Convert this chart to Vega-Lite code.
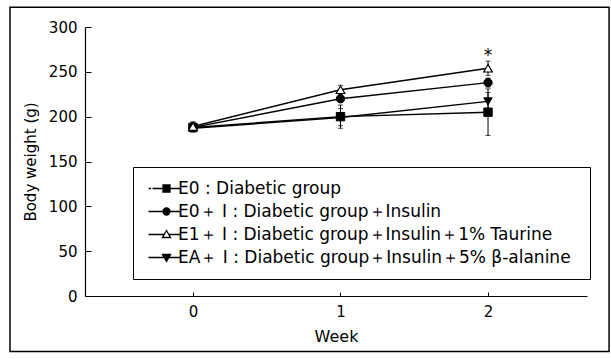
{
  "$schema": "https://vega.github.io/schema/vega-lite/v6.json",
  "width": 502,
  "height": 269,
  "autosize": {"type": "none"},
  "padding": {"left": 85, "top": 27, "right": 24, "bottom": 63},
  "background": "white",
  "config": {
    "view": {"stroke": null},
    "font": "DejaVu Sans",
    "axis": {"grid": false, "domainColor": "black", "domainWidth": 1.2, "tickColor": "black", "labelColor": "black", "titleColor": "black", "titleFontWeight": "normal", "labelFont": "DejaVu Sans", "titleFont": "DejaVu Sans"}
  },
  "datasets": {
    "bw": [
      {"group": "E0 : Diabetic group", "week": 0, "bw": 188, "lo": 183, "hi": 194},
      {"group": "E0 : Diabetic group", "week": 1, "bw": 200, "lo": 187, "hi": 213},
      {"group": "E0 : Diabetic group", "week": 2, "bw": 205, "lo": 179, "hi": 231},
      {"group": "E0＋ Ⅰ  : Diabetic group＋Insulin", "week": 0, "bw": 188, "lo": 184, "hi": 193},
      {"group": "E0＋ Ⅰ  : Diabetic group＋Insulin", "week": 1, "bw": 220, "lo": 216, "hi": 225},
      {"group": "E0＋ Ⅰ  : Diabetic group＋Insulin", "week": 2, "bw": 238, "lo": 233, "hi": 243},
      {"group": "E1＋ Ⅰ  : Diabetic group＋Insulin＋1% Taurine", "week": 0, "bw": 189, "lo": 185, "hi": 194},
      {"group": "E1＋ Ⅰ  : Diabetic group＋Insulin＋1% Taurine", "week": 1, "bw": 230, "lo": 226, "hi": 235},
      {"group": "E1＋ Ⅰ  : Diabetic group＋Insulin＋1% Taurine", "week": 2, "bw": 254, "lo": 246, "hi": 262},
      {"group": "EA＋ Ⅰ  : Diabetic group＋Insulin＋5% β-alanine", "week": 0, "bw": 187, "lo": 183, "hi": 192},
      {"group": "EA＋ Ⅰ  : Diabetic group＋Insulin＋5% β-alanine", "week": 1, "bw": 199, "lo": 190, "hi": 209},
      {"group": "EA＋ Ⅰ  : Diabetic group＋Insulin＋5% β-alanine", "week": 2, "bw": 217, "lo": 208, "hi": 227}
    ],
    "note": [{"week": 2, "bw": 268, "text": "*"}],
    "frame": [{"x1": -1.2405, "x2": 2.8206, "y1": -62, "y2": 322}]
  },
  "layer": [
    {
      "data": {"name": "bw"},
      "mark": {"type": "line", "color": "black", "strokeWidth": 1.4},
      "encoding": {
        "x": {"field": "week", "type": "quantitative", "title": "Week",
          "scale": {"domain": [-0.732, 2.671], "nice": false, "zero": false},
          "axis": {"values": [0, 1, 2], "format": "d", "tickSize": -4, "labelPadding": 12, "labelFontSize": 15, "titleFontSize": 16, "titlePadding": 9, "labelFlush": false}},
        "y": {"field": "bw", "type": "quantitative", "title": "Body weight (g)",
          "scale": {"domain": [0, 300], "nice": false},
          "axis": {"values": [0, 25, 50, 75, 100, 125, 150, 175, 200, 225, 250, 275, 300],
            "labelExpr": "datum.value % 50 === 0 ? datum.label : ''",
            "tickSize": {"condition": {"test": "datum.value % 50 === 0", "value": -6}, "value": -3},
            "labelPadding": 14,
            "labelFontSize": 15, "titleFontSize": 15, "titlePadding": 10}},
        "detail": {"field": "group"}
      }
    },
    {
      "data": {"name": "bw"},
      "mark": {"type": "errorbar", "ticks": true, "color": "black"},
      "encoding": {
        "x": {"field": "week", "type": "quantitative", "title": "Week"},
        "y": {"field": "lo", "type": "quantitative", "title": "Body weight (g)"},
        "y2": {"field": "hi"},
        "detail": {"field": "group"}
      }
    },
    {
      "data": {"name": "bw"},
      "transform": [{"filter": "indexof(datum.group, 'Insulin') < 0"}],
      "mark": {"type": "point", "shape": "square", "filled": true, "fill": "black", "stroke": "black", "strokeWidth": 1, "size": 70, "opacity": 1},
      "encoding": {
        "x": {"field": "week", "type": "quantitative", "title": "Week"},
        "y": {"field": "bw", "type": "quantitative", "title": "Body weight (g)"}
      }
    },
    {
      "data": {"name": "bw"},
      "transform": [{"filter": "indexof(datum.group, 'Insulin') >= 0 && indexof(datum.group, '%') < 0"}],
      "mark": {"type": "point", "shape": "circle", "filled": true, "fill": "black", "stroke": "black", "strokeWidth": 1, "size": 70, "opacity": 1},
      "encoding": {
        "x": {"field": "week", "type": "quantitative", "title": "Week"},
        "y": {"field": "bw", "type": "quantitative", "title": "Body weight (g)"}
      }
    },
    {
      "data": {"name": "bw"},
      "transform": [{"filter": "indexof(datum.group, 'alanine') >= 0"}],
      "mark": {"type": "point", "shape": "triangle-down", "filled": true, "fill": "black", "stroke": "black", "strokeWidth": 1, "size": 70, "opacity": 1},
      "encoding": {
        "x": {"field": "week", "type": "quantitative", "title": "Week"},
        "y": {"field": "bw", "type": "quantitative", "title": "Body weight (g)"}
      }
    },
    {
      "data": {"name": "bw"},
      "transform": [{"filter": "indexof(datum.group, 'Taurine') >= 0"}],
      "mark": {"type": "point", "shape": "triangle-up", "filled": true, "fill": "white", "stroke": "black", "strokeWidth": 1.2, "size": 75, "opacity": 1},
      "encoding": {
        "x": {"field": "week", "type": "quantitative", "title": "Week"},
        "y": {"field": "bw", "type": "quantitative", "title": "Body weight (g)"}
      }
    },
    {
      "data": {"name": "bw"},
      "transform": [{"filter": "datum.week > 10"}],
      "mark": {"type": "point", "filled": false, "color": "black", "strokeWidth": 1.3, "size": 100, "opacity": 1},
      "encoding": {
        "x": {"field": "week", "type": "quantitative", "title": "Week"},
        "y": {"field": "bw", "type": "quantitative", "title": "Body weight (g)"},
        "shape": {"field": "group", "type": "nominal",
          "scale": {"domain": ["E0 : Diabetic group", "E0＋ Ⅰ  : Diabetic group＋Insulin", "E1＋ Ⅰ  : Diabetic group＋Insulin＋1% Taurine", "EA＋ Ⅰ  : Diabetic group＋Insulin＋5% β-alanine"],
            "range": ["M-1.2,0H-0.7M-0.4,0H5.1M1.7,-0.7H3.1V0.7H1.7Z", "M-1.2,0H5.1M1.7,0A0.7,0.7,0,1,0,3.1,0A0.7,0.7,0,1,0,1.7,0Z", "M-1.2,0H1.95M2.85,0H5.1M2.4,-0.8L3.2,0.6L1.6,0.6Z", "M-1.2,0H5.1M1.6,-0.6L3.2,-0.6L2.4,0.8Z"]},
          "legend": {"orient": "none", "legendX": 48, "legendY": 140, "title": null,
            "strokeColor": "black", "fillColor": "white", "padding": 13,
            "labelFontSize": 17, "labelFont": "DejaVu Sans", "labelColor": "black", "labelLimit": 700,
            "symbolSize": 100, "symbolStrokeWidth": 1.3, "symbolStrokeColor": "black", "symbolOpacity": 1,
            "rowPadding": 5, "labelOffset": 15,
            "encode": {"symbols": {"update": {"stroke": {"value": "black"}, "strokeWidth": {"value": 1.3}, "opacity": {"value": 1}}}}}},
        "fill": {"field": "group", "type": "nominal",
          "scale": {"domain": ["E0 : Diabetic group", "E0＋ Ⅰ  : Diabetic group＋Insulin", "E1＋ Ⅰ  : Diabetic group＋Insulin＋1% Taurine", "EA＋ Ⅰ  : Diabetic group＋Insulin＋5% β-alanine"], "range": ["black", "black", "white", "black"]},
          "legend": {"orient": "none", "legendX": 48, "legendY": 140, "title": null,
            "strokeColor": "black", "fillColor": "white", "padding": 13,
            "labelFontSize": 17, "labelFont": "DejaVu Sans", "labelColor": "black", "labelLimit": 700,
            "symbolSize": 100, "symbolStrokeWidth": 1.3, "symbolStrokeColor": "black", "symbolOpacity": 1,
            "rowPadding": 5, "labelOffset": 15,
            "encode": {"symbols": {"update": {"stroke": {"value": "black"}, "strokeWidth": {"value": 1.3}, "opacity": {"value": 1}}}}}}
      }
    },
    {
      "data": {"name": "note"},
      "mark": {"type": "text", "fontSize": 17, "color": "black", "baseline": "middle"},
      "encoding": {
        "x": {"field": "week", "type": "quantitative", "title": "Week"},
        "y": {"field": "bw", "type": "quantitative", "title": "Body weight (g)"},
        "text": {"field": "text"}
      }
    },
    {
      "data": {"name": "frame"},
      "mark": {"type": "rect", "fill": null, "stroke": "black", "strokeWidth": 1.5, "clip": false},
      "encoding": {
        "x": {"field": "x1", "type": "quantitative", "title": "Week"},
        "x2": {"field": "x2"},
        "y": {"field": "y1", "type": "quantitative", "title": "Body weight (g)"},
        "y2": {"field": "y2"}
      }
    }
  ]
}
